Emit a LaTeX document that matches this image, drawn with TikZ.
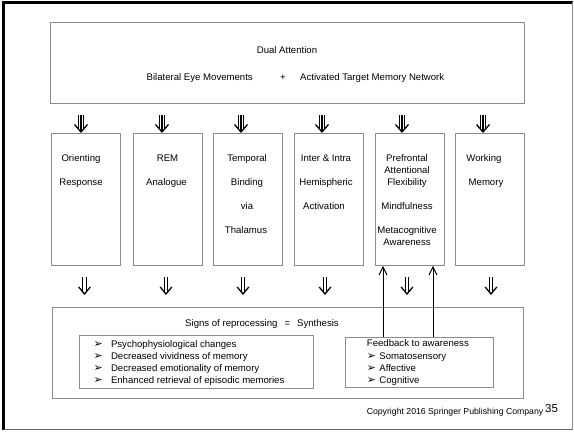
\documentclass[tikz,border=0pt]{standalone}
\usepackage{fontspec}
\setmainfont{Liberation Sans}
\newfontfamily\dejavu{DejaVu Sans}
\usetikzlibrary{arrows.meta}
\definecolor{boxgray}{gray}{0.55}
\newcommand{\bltL}{\makebox[17.5pt][l]{\dejavu\fontsize{11}{12}\selectfont ➢}}
\newcommand{\bltR}{\makebox[12.5pt][l]{\dejavu\fontsize{11}{12}\selectfont ➢}}
\tikzset{
  box/.style={draw=boxgray, line width=0.8pt, inner sep=0pt, anchor=north west},
  txt/.style={inner sep=0pt, anchor=base, font=\fontsize{9.6}{12}\selectfont},
  item/.style={inner sep=0pt, anchor=base west, font=\fontsize{9.6}{12}\selectfont},
  arr/.style={line width=1.3pt, line join=miter, line cap=butt},
  uparr/.style={line width=1pt, -{Straight Barb[length=8pt,width=8pt,line width=1pt]}},
  tripledown/.pic={
    \draw[arr] (-2.7,0) -- (-2.7,13.6) (0,0) -- (0,16) (2.7,0) -- (2.7,13.6);
    \draw[arr] (-6.5,9.5) -- (0,17) -- (6.5,9.5);
  },
  doubledown/.pic={
    \draw[arr] (-1.8,0) -- (-1.8,14.5) (1.8,0) -- (1.8,14.5);
    \draw[arr] (-5.8,10) -- (0,17) -- (5.8,10);
  }
}
\begin{document}
\begin{tikzpicture}[x=1pt,y=-1pt]
\useasboundingbox (0,0) rectangle (574,433);
% outer frame
\draw[line width=2.5pt] (3.5,430) -- (3.5,2.5) -- (572.5,2.5);
\draw[black!45, line width=1.2pt] (572.5,2.5) -- (572.5,429.5);
\draw[black!60, line width=1.4pt] (3.5,429.5) -- (572.5,429.5);

% top box
\node[box, minimum width=474pt, minimum height=81pt] (top) at (50,22) {};
\node[txt] (dual) at (287,53.5) {Dual Attention};
\node[txt, anchor=base east] (bem) at (253,80.5) {Bilateral Eye Movements};
\node[txt] (plus) at (283,80.5) {+};
\node[txt, anchor=base west] (atm) at (300,80.5) {Activated Target Memory Network};

% top arrows
\foreach \x in {81,162,241,322,402,483} \pic at (\x,115) {tripledown};

% middle boxes
\foreach \n/\x in {1/51,2/133,3/212.7,4/294,5/375,6/455}
  \node[box, minimum width=69pt, minimum height=132pt] (b\n) at (\x,133) {};

\node[txt] (t1a) at (81,161.5) {Orienting};
\node[txt] (t1b) at (81,185.5) {Response};

\node[txt] (t2a) at (167.5,161.5) {REM};
\node[txt] (t2b) at (166.5,185.5) {Analogue};

\node[txt] (t3a) at (247,161.5) {Temporal};
\node[txt] (t3b) at (247,185.5) {Binding};
\node[txt] (t3c) at (247,209.5) {via};
\node[txt] (t3d) at (246,233.5) {Thalamus};

\node[txt] (t4a) at (326,161.5) {Inter \& Intra};
\node[txt] (t4b) at (326,185.5) {Hemispheric};
\node[txt] (t4c) at (324,209.5) {Activation};

\node[txt] (t5a) at (407,161.5) {Prefrontal};
\node[txt] (t5b) at (407,173.5) {Attentional};
\node[txt] (t5c) at (407,185.5) {Flexibility};
\node[txt] (t5d) at (407,209.5) {Mindfulness};
\node[txt] (t5e) at (407,233.5) {Metacognitive};
\node[txt] (t5f) at (407,245.5) {Awareness};

\node[txt] (t6a) at (484,161.5) {Working};
\node[txt] (t6b) at (486,185.5) {Memory};

% lower arrows
\foreach \x in {84.5,166,243,325,407,491} \pic at (\x,277) {doubledown};

% bottom box
\node[box, minimum width=471pt, minimum height=91pt] (bot) at (52,307) {};
\node[txt] (signs) at (262,326.5) {Signs of reprocessing\hspace{7pt}=\hspace{7pt}Synthesis};

\node[box, minimum width=234pt, minimum height=53pt] (left) at (79,335) {};
\node[item] (l1) at (93.3,347.5) {\bltL Psychophysiological changes};
\node[item] (l2) at (93.3,359.5) {\bltL Decreased vividness of memory};
\node[item] (l3) at (93.3,371.5) {\bltL Decreased emotionality of memory};
\node[item] (l4) at (93.3,383.5) {\bltL Enhanced retrieval of episodic memories};

\node[box, minimum width=148pt, minimum height=50pt] (fb) at (345,337) {};
\node[item] (r0) at (366.7,346.5) {Feedback to awareness};
\node[item] (r1) at (366.7,359.5) {\bltR Somatosensory};
\node[item] (r2) at (366.7,371.5) {\bltR Affective};
\node[item] (r3) at (366.7,383.5) {\bltR Cognitive};

% feedback arrows
\draw[uparr] ([xshift=38pt]fb.north west) -- ([xshift=38pt]fb.north west |- b5.south);
\draw[uparr] ([xshift=88pt]fb.north west) -- ([xshift=88pt]fb.north west |- b5.south);

% copyright
\node[inner sep=0pt, anchor=base east, font=\fontsize{8.7}{10}\selectfont] (copy) at (543.5,414.5) {Copyright 2016 Springer Publishing Company};
\node[inner sep=0pt, anchor=base west, font=\fontsize{11.5}{12}\selectfont] (page) at (545,412.5) {35};
\end{tikzpicture}
\end{document}
